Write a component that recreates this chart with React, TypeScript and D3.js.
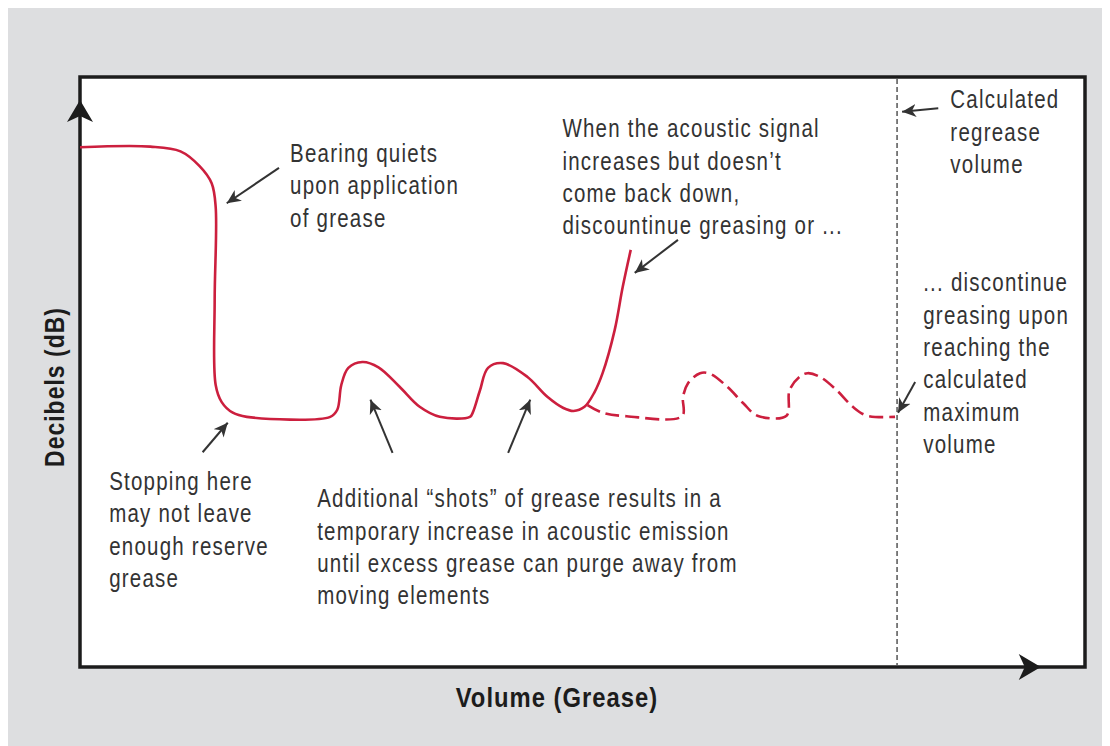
import React from 'react';
import * as d3 from 'd3';

// solid trace: bearing quiets, two grease shots, then the runaway rise
const solidVolume = [0, 7.0, 10.0, 11.9, 13.1, 13.5, 13.4, 13.5, 14.1, 15.2, 16.6, 24.9, 25.6, 26.0, 26.7, 28.1, 29.7, 31.8, 33.8, 35.8, 38.8, 39.1, 39.8, 40.6, 42.1, 44.5, 46.5, 48.1, 49.1, 50.2, 51.2, 52.0, 53.2, 54.0, 54.8];
const solidDb = [88.1, 88.2, 87.4, 84.9, 82.0, 78.0, 62.2, 47.8, 44.9, 43.1, 42.4, 42.4, 43.6, 47.8, 50.7, 51.7, 50.8, 47.5, 44.1, 42.4, 42.4, 43.2, 46.9, 50.7, 51.5, 49.2, 45.8, 43.9, 43.4, 44.1, 46.6, 49.8, 57.1, 64.4, 70.7];

// dashed trace: keep greasing until the calculated volume
const dashedVolume = [50.5, 52.0, 54.4, 59.9, 60.0, 60.5, 61.7, 62.7, 64.4, 66.0, 67.4, 70.3, 70.6, 71.6, 72.4, 73.6, 75.3, 76.9, 78.3, 81.1];
const dashedDb = [44.4, 43.1, 42.5, 42.5, 45.8, 48.1, 49.8, 49.7, 47.5, 44.7, 42.6, 42.6, 46.9, 49.2, 49.8, 49.2, 46.9, 44.1, 42.6, 42.4];

const regreaseVolume = 81.3;

const notes = [
  { x: 20.9, y: 85.6, lines: ['Bearing quiets', 'upon application', 'of grease'] },
  { x: 2.9, y: 30.0, lines: ['Stopping here', 'may not leave', 'enough reserve', 'grease'] },
  { x: 23.6, y: 27.1, lines: ['Additional \u201cshots\u201d of grease results in a', 'temporary increase in acoustic emission', 'until excess grease can purge away from', 'moving elements'] },
  { x: 48.0, y: 89.8, lines: ['When the acoustic signal', 'increases but doesn\u2019t', 'come back down,', 'discountinue greasing or ...'] },
  { x: 86.6, y: 94.7, lines: ['Calculated', 'regrease', 'volume'] },
  { x: 83.9, y: 63.7, lines: ['... discontinue', 'greasing upon', 'reaching the', 'calculated', 'maximum', 'volume'] },
];

const pointers = [
  { from: [19.8, 84.6], to: [14.6, 78.6] },
  { from: [12.2, 36.4], to: [14.7, 41.4] },
  { from: [31.1, 36.3], to: [28.9, 45.3] },
  { from: [42.6, 36.3], to: [44.8, 45.3] },
  { from: [59.5, 72.4], to: [55.2, 66.8] },
  { from: [85.4, 94.7], to: [81.8, 94.1] },
  { from: [83.1, 48.3], to: [81.4, 43.1] },
];

const FONT = "'Liberation Sans', Arial, sans-serif";
const RED = '#cc1f3e';
const INK = '#333';

const App: React.FC = () => {
  const left = 80, right = 1085, top = 77, bottom = 667;
  const x = d3.scaleLinear().domain([0, 100]).range([left, right]);
  const y = d3.scaleLinear().domain([0, 100]).range([bottom, top]);

  const line = d3
    .line<number>()
    .x((d) => x(d))
    .curve(d3.curveCatmullRom.alpha(0.5));

  const solidPath = line.y((_, i) => y(solidDb[i]))(solidVolume) || '';
  const dashedPath = line.y((_, i) => y(dashedDb[i]))(dashedVolume) || '';

  return (
    <svg width={1102} height={738} style={{ display: 'block' }}>
      <defs>
        <marker id="tip" viewBox="-14 -7 16 14" markerWidth={16} markerHeight={14} refX={0} refY={0} orient="auto" markerUnits="userSpaceOnUse">
          <path d="M0,0 L-14,-6.5 L-10,0 L-14,6.5 Z" fill={INK} />
        </marker>
      </defs>
      <g transform="translate(-8,-8)">
        <rect x={8} y={8} width={1102} height={738} fill="#dddee0" />
        <rect x={left} y={top} width={right - left} height={bottom - top} fill="#fff" stroke="#1c1c1c" strokeWidth={3.5} />

        {/* axis arrowheads */}
        <path d={`M${left},${top + 23} l-13,22 l13,-6 l13,6 Z`} fill="#1c1c1c" />
        <path d={`M${x(95.6)},${bottom} l-22,-13 l6,13 l-6,13 Z`} fill="#1c1c1c" />

        <line x1={x(regreaseVolume)} x2={x(regreaseVolume)} y1={top + 2} y2={bottom - 2} stroke="#555" strokeWidth={1.5} strokeDasharray="5,3" />

        <path d={dashedPath} fill="none" stroke={RED} strokeWidth={2.6} strokeDasharray="14,6" />
        <path d={solidPath} fill="none" stroke={RED} strokeWidth={2.6} />

        {pointers.map((p, i) => (
          <line key={i} x1={x(p.from[0])} y1={y(p.from[1])} x2={x(p.to[0])} y2={y(p.to[1])} stroke={INK} strokeWidth={2} markerEnd="url(#tip)" />
        ))}

        {notes.map((n, i) => (
          <text key={i} transform={`translate(${x(n.x)},${y(n.y)}) scale(0.82,1)`} fill={INK} fontFamily={FONT} fontSize={25} letterSpacing={1.5}>
            {n.lines.map((l, j) => (
              <tspan key={j} x={0} dy={j === 0 ? 0 : 32.4}>{l}</tspan>
            ))}
          </text>
        ))}

        <text transform="translate(557,707) scale(0.85,1)" textAnchor="middle" fill="#1c1c1c" fontFamily={FONT} fontWeight="bold" fontSize={28} letterSpacing={1.2}>
          Volume (Grease)
        </text>
        <text transform="translate(54,387) rotate(-90) scale(0.85,1)" textAnchor="middle" dominantBaseline="central" fill="#1c1c1c" fontFamily={FONT} fontWeight="bold" fontSize={27} letterSpacing={1.2}>
          Decibels (dB)
        </text>
      </g>
    </svg>
  );
};

export default App;
